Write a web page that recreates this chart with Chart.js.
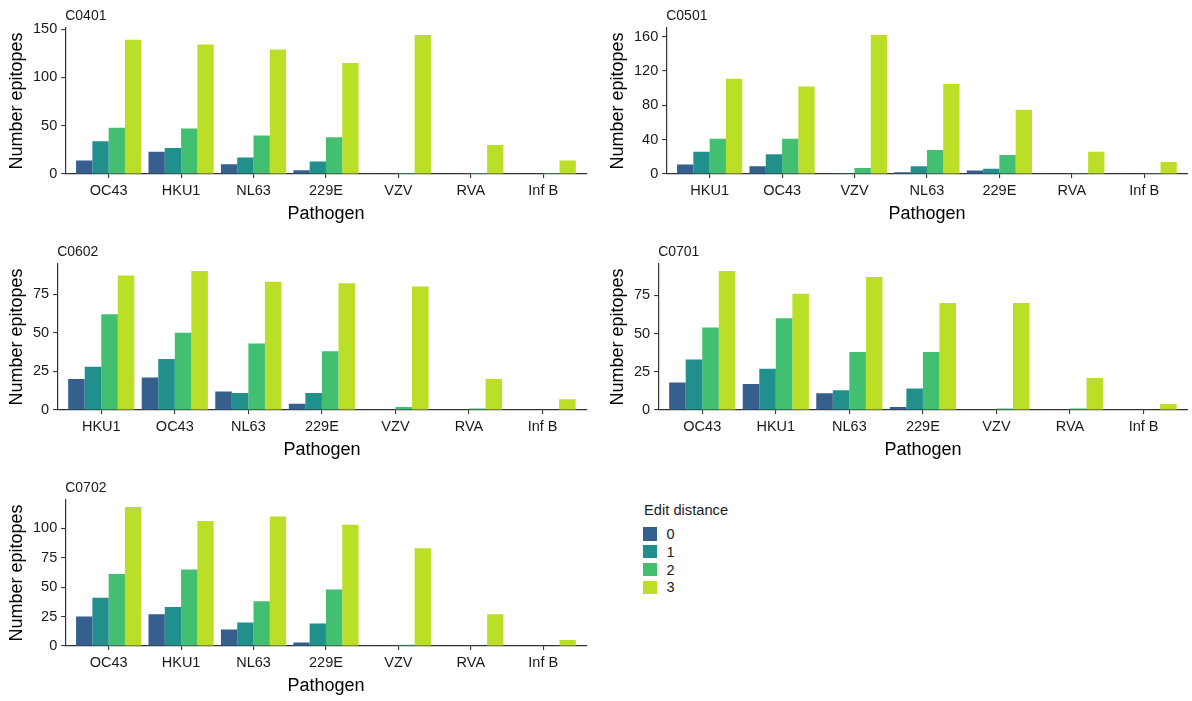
<!DOCTYPE html>
<html>
<head>
<meta charset="utf-8">
<script src="https://cdn.jsdelivr.net/npm/chart.js@4.4.1/dist/chart.umd.min.js"></script>
<style>
  html, body { margin: 0; padding: 0; background: #ffffff; width: 1192px; height: 701px; overflow: hidden; }
  canvas { position: absolute; display: block; }
  .legend-title, .legend-label { position: absolute; font-family: "Liberation Sans", Arial, sans-serif; color: #1a1a1a; white-space: nowrap; }
  .legend-title { font-size: 14.7px; line-height: 18px; }
  .legend-label { font-size: 14.5px; line-height: 18px; }
  .legend-key { position: absolute; width: 13.4px; height: 13.4px; }
</style>
</head>
<body>
<canvas id="c0401" width="600" height="236" style="left:0px;top:0px"></canvas>
<canvas id="c0501" width="591" height="236" style="left:601px;top:0px"></canvas>
<canvas id="c0602" width="600" height="236" style="left:0px;top:236px"></canvas>
<canvas id="c0701" width="591" height="236" style="left:601px;top:236px"></canvas>
<canvas id="c0702" width="600" height="236" style="left:0px;top:471.7px"></canvas>
<div id="legend"></div>

<script>
// Edit-distance groups and their fill colours (viridis steps)
const editDistances = ['0', '1', '2', '3'];
const editColors = ['#35608D', '#21908C', '#43BF71', '#BBDF27'];

// HLA-C0401
const pathogensC0401 = ['OC43', 'HKU1', 'NL63', '229E', 'VZV', 'RVA', 'Inf B'];
const c0401Dist0 = [14, 23, 10, 4, 0, 0, 0];
const c0401Dist1 = [34, 27, 17, 13, 0, 0, 0];
const c0401Dist2 = [48, 47, 40, 38, 1, 1, 1];
const c0401Dist3 = [139, 134, 129, 115, 144, 30, 14];
const yTicksC0401 = [0, 50, 100, 150];

// HLA-C0501
const pathogensC0501 = ['HKU1', 'OC43', 'VZV', 'NL63', '229E', 'RVA', 'Inf B'];
const c0501Dist0 = [11, 9, 0, 2, 4, 0, 0];
const c0501Dist1 = [26, 23, 1, 9, 6, 0, 0];
const c0501Dist2 = [41, 41, 7, 28, 22, 1, 1];
const c0501Dist3 = [111, 102, 162, 105, 75, 26, 14];
const yTicksC0501 = [0, 40, 80, 120, 160];

// HLA-C0602
const pathogensC0602 = ['HKU1', 'OC43', 'NL63', '229E', 'VZV', 'RVA', 'Inf B'];
const c0602Dist0 = [20, 21, 12, 4, 0, 0, 0];
const c0602Dist1 = [28, 33, 11, 11, 0, 0, 0];
const c0602Dist2 = [62, 50, 43, 38, 2, 1, 0];
const c0602Dist3 = [87, 90, 83, 82, 80, 20, 7];
const yTicksC0602 = [0, 25, 50, 75];

// HLA-C0701
const pathogensC0701 = ['OC43', 'HKU1', 'NL63', '229E', 'VZV', 'RVA', 'Inf B'];
const c0701Dist0 = [18, 17, 11, 2, 0, 0, 0];
const c0701Dist1 = [33, 27, 13, 14, 0, 0, 0];
const c0701Dist2 = [54, 60, 38, 38, 1, 1, 0];
const c0701Dist3 = [91, 76, 87, 70, 70, 21, 4];
const yTicksC0701 = [0, 25, 50, 75];

// HLA-C0702
const pathogensC0702 = ['OC43', 'HKU1', 'NL63', '229E', 'VZV', 'RVA', 'Inf B'];
const c0702Dist0 = [25, 27, 14, 3, 0, 0, 0];
const c0702Dist1 = [41, 33, 20, 19, 0, 0, 0];
const c0702Dist2 = [61, 65, 38, 48, 1, 0, 0];
const c0702Dist3 = [118, 106, 110, 103, 83, 27, 5];
const yTicksC0702 = [0, 25, 50, 75, 100];

const FONT = '"Liberation Sans", Arial, sans-serif';
Chart.defaults.font.family = FONT;
const TEXT = '#1a1a1a';
const AXIS = '#333333';

// Small label above each panel, aligned with the y axis line
const panelTitle = {
  id: 'panelTitle',
  afterDraw(chart, args, opts) {
    const { ctx, chartArea } = chart;
    ctx.save();
    ctx.font = '14px ' + FONT;
    ctx.fillStyle = TEXT;
    ctx.textAlign = 'left';
    ctx.textBaseline = 'alphabetic';
    ctx.fillText(opts.text, chartArea.left, chartArea.top - 8);
    ctx.restore();
  }
};

function drawPanel(canvasId, title, pathogens, series, yTicks, rightPad) {
  const peak = Math.max(...series.flat());
  new Chart(document.getElementById(canvasId), {
    type: 'bar',
    data: {
      datasets: series.map((vals, k) => ({
        label: editDistances[k],
        data: vals.map((v, i) => ({ x: i + 1, y: v })),
        backgroundColor: editColors[k],
        borderWidth: 0,
        categoryPercentage: 0.9,
        barPercentage: 1.0
      }))
    },
    options: {
      responsive: false,
      animation: false,
      events: [],
      layout: { padding: { top: 28, left: 0, right: rightPad, bottom: 0 } },
      plugins: {
        legend: { display: false },
        tooltip: { enabled: false },
        panelTitle: { text: title }
      },
      scales: {
        x: {
          type: 'linear',
          offset: false,
          min: 0.4,
          max: pathogens.length + 0.6,
          afterBuildTicks: s => { s.ticks = pathogens.map((p, i) => ({ value: i + 1 })); },
          afterFit: s => { s.height = 62; },
          ticks: {
            callback: v => pathogens[v - 1],
            font: { size: 14.5 },
            color: TEXT,
            padding: 4,
            autoSkip: false,
            maxRotation: 0
          },
          grid: { offset: false, drawOnChartArea: false, drawTicks: true, tickLength: 4, color: AXIS, lineWidth: 1.1 },
          border: { display: true, color: AXIS, width: 1.2 },
          title: { display: true, text: 'Pathogen', font: { size: 18 }, color: '#000', padding: { top: 0, bottom: 11.2 } }
        },
        y: {
          type: 'linear',
          min: 0,
          max: peak * 1.05,
          afterBuildTicks: s => { s.ticks = yTicks.map(v => ({ value: v })); },
          ticks: { font: { size: 14.5 }, color: TEXT, padding: 4 },
          grid: { drawOnChartArea: false, drawTicks: true, tickLength: 4, color: AXIS, lineWidth: 1.1 },
          border: { display: true, color: AXIS, width: 1.2 },
          title: { display: true, text: 'Number epitopes', font: { size: 18 }, color: '#000', padding: { top: 6.4, bottom: 1 } }
        }
      }
    },
    plugins: [panelTitle]
  });
}

drawPanel('c0401', 'C0401', pathogensC0401, [c0401Dist0, c0401Dist1, c0401Dist2, c0401Dist3], yTicksC0401, 13.3);
drawPanel('c0501', 'C0501', pathogensC0501, [c0501Dist0, c0501Dist1, c0501Dist2, c0501Dist3], yTicksC0501, 4.3);
drawPanel('c0602', 'C0602', pathogensC0602, [c0602Dist0, c0602Dist1, c0602Dist2, c0602Dist3], yTicksC0602, 13.3);
drawPanel('c0701', 'C0701', pathogensC0701, [c0701Dist0, c0701Dist1, c0701Dist2, c0701Dist3], yTicksC0701, 4.3);
drawPanel('c0702', 'C0702', pathogensC0702, [c0702Dist0, c0702Dist1, c0702Dist2, c0702Dist3], yTicksC0702, 13.3);

// Shared legend for the edit-distance fill
(function buildLegend() {
  const box = document.getElementById('legend');
  const title = document.createElement('div');
  title.className = 'legend-title';
  title.textContent = 'Edit distance';
  title.style.left = '644px';
  title.style.top = '501px';
  box.appendChild(title);
  editDistances.forEach((d, i) => {
    const top = 527.3 + i * 17.8;
    const key = document.createElement('div');
    key.className = 'legend-key';
    key.style.left = '643.3px';
    key.style.top = top + 'px';
    key.style.background = editColors[i];
    box.appendChild(key);
    const lab = document.createElement('div');
    lab.className = 'legend-label';
    lab.textContent = d;
    lab.style.left = '666.5px';
    lab.style.top = (top + 6.7 - 9) + 'px';
    box.appendChild(lab);
  });
})();
</script>
</body>
</html>
